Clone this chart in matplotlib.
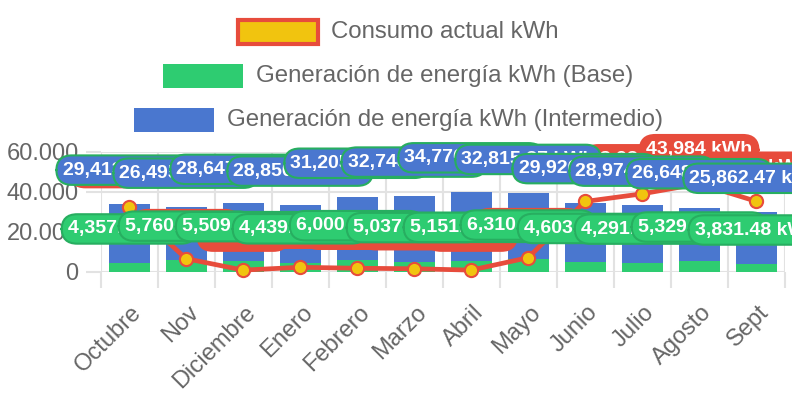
import numpy as np
import matplotlib
matplotlib.use("Agg")
from matplotlib import pyplot as plt
from matplotlib.patches import Rectangle
from matplotlib.transforms import ScaledTranslation

plt.rcParams['font.family'] = ['Liberation Sans', 'DejaVu Sans']

months = ["Octubre", "Nov", "Diciembre", "Enero", "Febrero", "Marzo",
          "Abril", "Mayo", "Junio", "Julio", "Agosto", "Sept"]
consumo = [32540, 6520, 780, 2210, 1720, 1480, 790, 7010,
           35120, 38933, 43984, 35210]
base = [4357.21, 5760.58, 5509.12, 4439.66, 6000.35, 5037.88,
        5151.04, 6310.73, 4603.19, 4291.52, 5329.41, 3831.48]
intermedio = [29413.62, 26495.18, 28647.35, 28850.74, 31205.41, 32748.09,
              34776.52, 32815.37, 29926.83, 28974.16, 26648.27, 25862.47]
legend_labels = ["Consumo actual kWh",
                 "Generación de energía kWh (Base)",
                 "Generación de energía kWh (Intermedio)"]

RED = "#e74c3c"
YELLOW = "#f1c40f"
GREEN = "#2ecc71"
GREEN_DARK = "#27ae60"
BLUE = "#4a77cf"
GRID = "#e2e2e2"
TXT = "#666666"

fig = plt.figure(figsize=(7.92, 3.96), dpi=100)
ax = fig.add_axes([0.1271, 0.3139, 0.8636, 0.303])

x = np.arange(len(months))
ax.bar(x, base, width=0.72, color=GREEN, zorder=2)
ax.bar(x, intermedio, width=0.72, bottom=base, color=BLUE, zorder=2)
ax.plot(x, consumo, color=RED, lw=3.4, marker='o', ms=9.5, mfc=YELLOW,
        mec=RED, mew=1.5, zorder=4, clip_on=False)

ax.set_xlim(-0.5, len(months) - 0.5)
ax.set_ylim(0, 60000)
ax.set_yticks([0, 20000, 40000, 60000])
ax.set_yticklabels([f"{v:,}".replace(",", ".") for v in [0, 20000, 40000, 60000]])
ax.set_xticks(x)
ax.set_xticklabels(months)
ax.set_xticks(np.arange(-0.5, len(months), 1), minor=True)

for s in ax.spines.values():
    s.set_visible(False)
ax.set_axisbelow(True)
ax.grid(which='major', axis='y', color=GRID, lw=1.5)
ax.grid(which='minor', axis='x', color=GRID, lw=1.5)
ax.tick_params(axis='y', length=10.8, width=1.5, color=GRID, labelcolor=TXT,
               labelsize=17, pad=5)
ax.tick_params(axis='x', which='major', length=0, labelcolor=TXT,
               labelsize=17, pad=27)
ax.tick_params(axis='x', which='minor', length=11.5, width=1.5, color=GRID)

shift = ScaledTranslation(9 / 100, 0, fig.dpi_scale_trans)
for lab in ax.get_xticklabels():
    lab.set_rotation(45)
    lab.set_ha('right')
    lab.set_va('center')
    lab.set_rotation_mode('anchor')
    lab.set_transform(lab.get_transform() + shift)

# data labels: line first, then base, then intermedio (later ones on top)
z = 10
def put_label(xi, top, text, fc, ec):
    global z
    ax.annotate(text, xy=(xi, top), xytext=(0, 24.5), textcoords='offset points',
                ha='center', va='center', fontsize=14, fontweight='bold',
                color='white', zorder=z, annotation_clip=False,
                bbox=dict(boxstyle='round,pad=0.32,rounding_size=0.8',
                          fc=fc, ec=ec, lw=1.5))
    z += 1

for i, v in enumerate(consumo):
    put_label(i, v, f"{v:,} kWh", RED, RED)
for i, v in enumerate(base):
    put_label(i, v, f"{v:,.2f} kWh", GREEN, GREEN_DARK)
for i, v in enumerate(intermedio):
    put_label(i, base[i] + v, f"{v:,.2f} kWh", BLUE, GREEN_DARK)

# legend, one centred row per item
W, H = 792, 396
renderer = fig.canvas.get_renderer()
rows_y = [32, 76, 120]
faces = [YELLOW, GREEN, BLUE]
edges = [RED, GREEN, BLUE]
edge_w = [3.0, 0, 0]
for lab, yc, fc, ec, lw in zip(legend_labels, rows_y, faces, edges, edge_w):
    t = fig.text(0, 1 - yc / H, lab, fontsize=17.3, color=TXT, va='center', ha='left')
    tw = t.get_window_extent(renderer).width
    total = 80 + 13 + tw
    left = 398 - total / 2
    t.set_x((left + 93) / W)
    fig.patches.append(Rectangle((left / W, 1 - (yc + 12) / H), 80 / W, 24 / H,
                                 transform=fig.transFigure, fc=fc, ec=ec, lw=lw,
                                 figure=fig))

fig.savefig("out.png", dpi=100)
